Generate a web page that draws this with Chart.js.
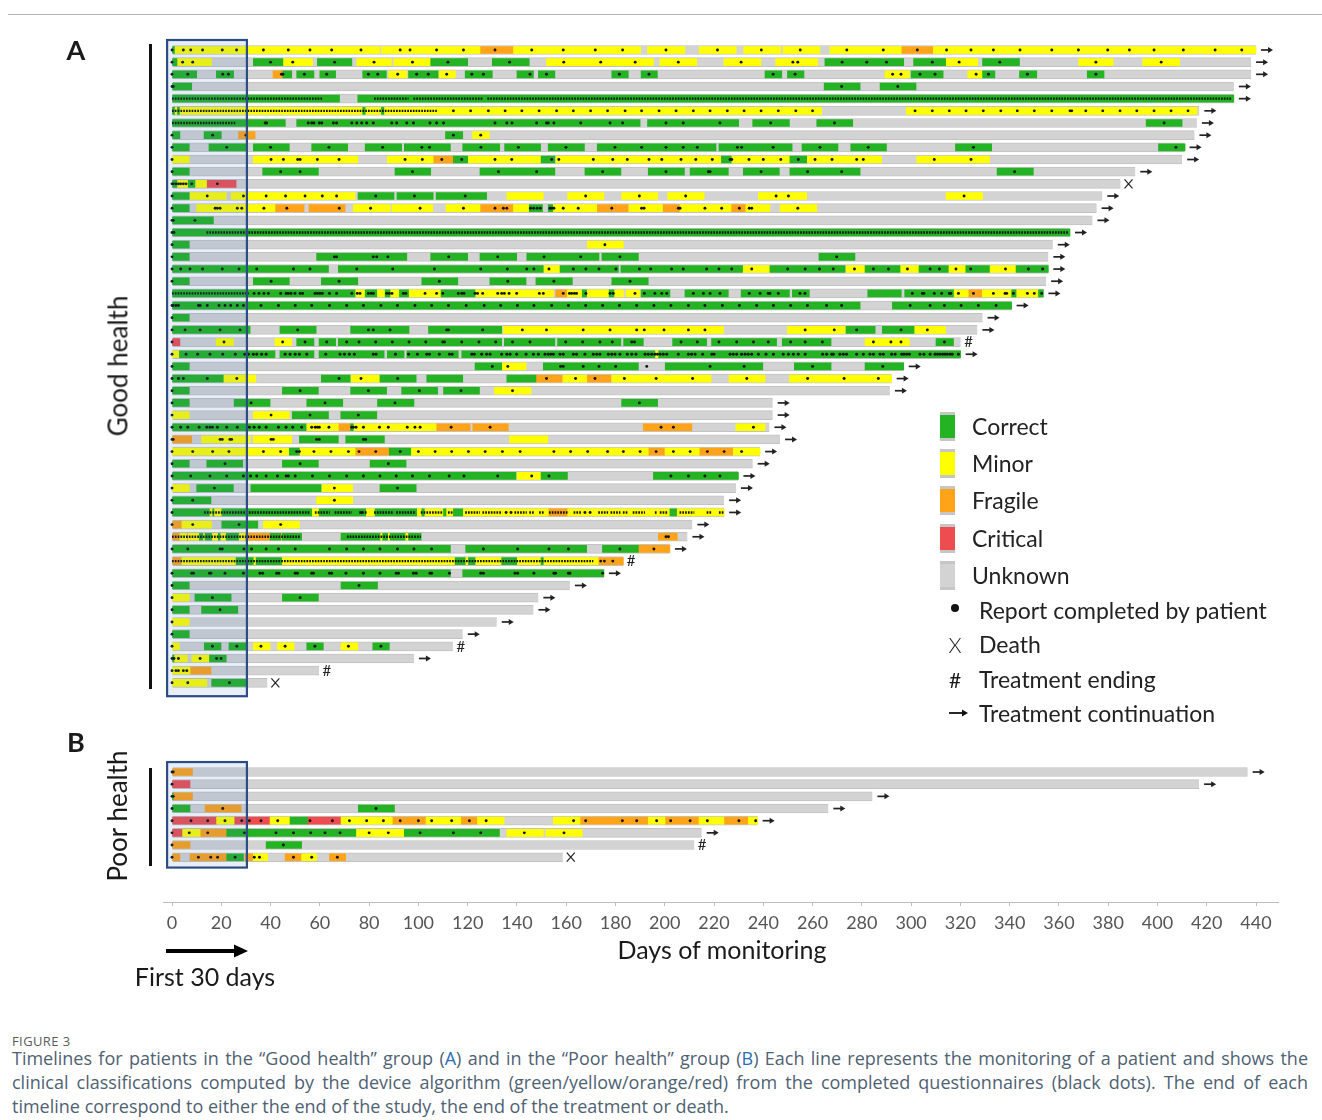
<!DOCTYPE html>
<html>
<head>
<meta charset="utf-8">
<title>Timelines</title>
<script src="https://cdn.jsdelivr.net/npm/chart.js@4.4.1/dist/chart.umd.min.js"></script>
<style>
  body { margin: 0; background: #fff; }
  #fig { position: relative; width: 1322px; height: 1120px; overflow: hidden; font-family: Lato, sans-serif; color: #1a1a1a; }
  #timeline { position: absolute; left: 0; top: 0; }
  .topline { position: absolute; left: 8px; top: 14px; width: 1314px; height: 1px; background: #b4b4b4; }
  .lbl { position: absolute; line-height: 1.2; white-space: nowrap; transform: translate(-50%, -50%); }
  .rot { transform: translate(-50%, -50%) rotate(-90deg); }
  .vline { position: absolute; left: 149px; width: 2.5px; background: #111; }
  .leg-txt { position: absolute; font-size: 23px; line-height: 1.2; white-space: nowrap; transform: translateY(-50%); color: #222; }
  .swatch { position: absolute; left: 940px; width: 15px; height: 23px; border-top: 3px solid #c6c6c6; border-bottom: 3px solid #c6c6c6; }
  .caption { position: absolute; left: 12px; width: 1296px; font-family: "Open Sans", sans-serif; color: #4e6273; font-size: 18px; line-height: 24px; }
  .caption .j { text-align: justify; text-align-last: justify; }
  .caption b { font-weight: normal; color: #2a6db5; }
  .fignum { position: absolute; left: 12px; top: 1032px; font-family: "Open Sans", sans-serif; font-size: 13px; color: #5a5a5a; letter-spacing: 0.4px; }
</style>
</head>
<body>
<div id="fig">
  <div class="topline"></div>
  <canvas id="timeline" width="1322" height="1010"></canvas>

  <div class="lbl" style="left:76px; top:50px; font-size:27px; font-weight:bold;">A</div>
  <div class="lbl" style="left:76px; top:742px; font-size:27px; font-weight:bold;">B</div>
  <div class="vline" style="top:44px; height:645px;"></div>
  <div class="vline" style="top:768px; height:98px;"></div>
  <div class="lbl rot" style="left:118px; top:366px; font-size:26px;">Good health</div>
  <div class="lbl rot" style="left:118px; top:816px; font-size:26px;">Poor health</div>

  <div class="lbl" style="left:722px; top:949px; font-size:25px;">Days of monitoring</div>
  <svg style="position:absolute; left:160px; top:940px;" width="100" height="22">
    <line x1="6" y1="11" x2="76" y2="11" stroke="#000" stroke-width="4"></line>
    <polygon points="74,4.5 88,11 74,17.5" fill="#000"></polygon>
  </svg>
  <div class="lbl" style="left:205px; top:976px; font-size:25px;">First 30 days</div>

  <div class="swatch" style="top:412px; background:#23b323;"></div>
  <div class="leg-txt" style="left:972px; top:427px;">Correct</div>
  <div class="swatch" style="top:449px; background:#ffff00;"></div>
  <div class="leg-txt" style="left:972px; top:464px;">Minor</div>
  <div class="swatch" style="top:486px; background:#ffa318;"></div>
  <div class="leg-txt" style="left:972px; top:501px;">Fragile</div>
  <div class="swatch" style="top:524px; background:#ee4d4f;"></div>
  <div class="leg-txt" style="left:972px; top:539px;">Critical</div>
  <div class="swatch" style="top:561px; background:#d3d3d3;"></div>
  <div class="leg-txt" style="left:972px; top:576px;">Unknown</div>
  <div style="position:absolute; left:951px; top:604px; width:8px; height:8px; border-radius:50%; background:#111;"></div>
  <div class="leg-txt" style="left:979px; top:611px;">Report completed by patient</div>
  <div class="lbl" style="left:955px; top:645px; font-size:21px; font-weight:300;">X</div>
  <div class="leg-txt" style="left:979px; top:645px;">Death</div>
  <div class="lbl" style="left:955px; top:680px; font-size:21px;">#</div>
  <div class="leg-txt" style="left:979px; top:680px;">Treatment ending</div>
  <svg style="position:absolute; left:946px; top:706px;" width="26" height="14">
    <line x1="3" y1="7" x2="17" y2="7" stroke="#111" stroke-width="1.8"></line>
    <polygon points="16,3.5 22,7 16,10.5" fill="#111"></polygon>
  </svg>
  <div class="leg-txt" style="left:979px; top:714px;">Treatment continuation</div>

  <div class="fignum">FIGURE 3</div>
  <div class="caption" style="top:1046px;">
    <div class="j">Timelines for patients in the “Good health” group (<b>A</b>) and in the “Poor health” group (<b>B</b>) Each line represents the monitoring of a patient and shows the</div>
    <div class="j">clinical classifications computed by the device algorithm (green/yellow/orange/red) from the completed questionnaires (black dots). The end of each</div>
    <div>timeline correspond to either the end of the study, the end of the treatment or death.</div>
  </div>
</div>

<script>
// ---- panel A: "Good health" (rows numbered from the top) ----
const endDayA = [440, 438, 438, 431, 431, 417, 416, 415, 411, 410, 391, 385, 377.6, 375.3, 373.6, 364.5, 357.5, 355.7,
  355.7, 354.8, 353.7, 340.8, 329, 326.9, 320.1, 320.1, 297, 292.1, 291.4, 243.8, 243.8, 242.5, 246.8, 238.7, 235.7,
  229.9, 228.9, 224.1, 224.1, 211.2, 209.2, 202.1, 183.2, 175.3, 161.5, 148.7, 146.7, 131.8, 118, 114, 98.2, 59.7, 38.7];
const deathRowsA = [12, 53];
const endingRowsA = [25, 43, 50, 52];

// segments [row, startDay, endDay]
const correctA = [
  [1,0,1],
  [2,0,2],[2,33,45],[2,59,73],[2,105,120],[2,130,145],[2,265,297],[2,301,314],[2,329,344],
  [3,0,10],[3,18,25],[3,45,48.6],[3,50.6,57.6],[3,60,66.4],[3,77.4,87],[3,96,108],[3,119,130],[3,140,146.7],[3,148.7,155.4],
  [3,178.5,185.2],[3,190.4,197],[3,240.7,247.5],[3,249.8,256.5],[3,300,313],[3,329,334],[3,344,351],[3,371.5,378.3],
  [4,0,8],[4,264.7,279.3],[4,287.4,302],
  [5,0,68],[5,75.4,431],
  [6,0,1],[6,2.2,3],[6,77.4,78.4],[6,85,86],
  [7,0,46],[7,50.6,190],[7,193,230],[7,235.7,250.6],[7,261.7,276.3],[7,395.4,410],
  [8,0,3.2],[8,13,20],[8,111,118],
  [9,0,7],[9,15,30.3],[9,33,47.6],[9,56.7,71.3],[9,78.4,93.2],[9,94.3,113],[9,118,133],[9,135,149.6],[9,152.7,167.4],
  [9,172.6,220.8],[9,222,251.7],[9,255.7,270.3],[9,275.5,290],[9,318,332.7],[9,400.4,411.2],
  [10,114.2,120],[10,149.8,155.4],[10,223,227],[10,250.8,257.6],
  [11,0,7],[11,36.8,59.4],[11,90.5,105],[11,125,155.4],[11,167.6,182.2],[11,193.3,208],[11,210.3,225.8],[11,231.9,246.5],
  [11,250.8,279.3],[11,334.9,349.6],
  [12,0,2],[12,6.6,9.3],
  [13,0,7],[13,75.5,90.1],[13,91.3,106],[13,107.2,127.7],
  [14,0,7],[14,145,150.4],[14,152.7,154.5],
  [15,0,16.8],
  [16,0,364.5],
  [17,0,7],
  [18,0,7],[18,58.7,95.3],[18,105,120],[18,125,139.9],[18,144,173.3],[18,174.5,189.3],[18,262.6,277.2],
  [19,0,63.5],[19,67.5,150.7],[19,157.5,181.2],[19,182.2,231.6],[19,242.7,273.2],[19,281.3,295.5],[19,303.2,315.1],
  [19,322.2,331.8],[19,342.6,355.7],
  [20,0,7],[20,33,47.6],[20,60.6,75.4],[20,101.4,116],[20,129,143.7],[20,147.7,162.5],[20,178.5,193.3],
  [21,0,74.3],[21,78.4,83.1],[21,86.5,88.5],[21,92.3,96],[21,109.2,123],[21,166.5,168.3],[21,177.4,179.4],[21,190.4,202.1],
  [21,208.2,225.8],[21,231,250.6],[21,251.8,258.7],[21,282.4,296],[21,297.4,317.2],[21,340.8,342.6],[21,351.7,353.7],
  [22,0,279.3],[22,292.4,340.8],
  [23,0,7],
  [24,0,31.7],[24,43.8,58.5],[24,72.5,96.2],[24,104.1,133.8],[24,273.6,285.4],[24,288.3,301.2],
  [25,50.6,57.6],[25,59.7,66.4],[25,67.5,133.8],[25,134.9,155.4],[25,156.5,182.2],[25,183.3,191.3],[25,203.2,217],
  [25,219,245.4],[25,247.7,267.5],[25,310.1,317.2],
  [26,3,41.8],[26,43.8,57.6],[26,59.7,86.1],[26,87.4,94.2],[26,95.3,116.2],[26,117.6,196],[26,197.5,320.1],
  [27,0,7],[27,123,133.8],[27,150.7,189.3],[27,200.2,239.8],[27,252.6,267.5],[27,281.3,297],
  [28,0,20.8],[28,60.6,72.3],[28,84.4,99.1],[28,103.4,118],[28,135.9,147.7],
  [29,0,7],[29,44.8,59.4],[29,72.5,87.1],[29,93.2,107.8],[29,110.2,124.8],
  [30,0,7],[30,25.2,39.8],[30,54.7,69.3],[30,83.4,98.2],[30,182.5,197.1],
  [31,48.8,63.5],[31,68.5,83.1],
  [32,0,54.4],[32,72.5,73.6],
  [33,51.7,67.5],[33,70.5,86.2],
  [34,47.6,51.7],[34,88.2,96.9],
  [35,0,7],[35,14.1,28.7],[35,44.8,59.4],[35,80.4,95],
  [36,0,139.6],[36,149.8,160.5],[36,195.4,229.9],
  [37,10,24.9],[37,32,60.5],[37,84.4,99.1],
  [38,0,15.8],
  [39,0,15.2],[39,16.5,17],[39,20.2,56.7],[39,59.7,78.6],[39,82.4,99.3],[39,101.4,102.4],[39,110.2,111.2],[39,114.2,118],[39,202.1,204.8],
  [40,20.2,34.8],
  [41,11.1,12.5],[41,13.4,16.1],[41,18.8,19.5],[41,22,27],[41,39.8,44.1],[41,44.8,52.6],[41,68.6,84.4],[41,85.5,87.5],
  [41,88.5,94.6],[41,96,101.1],
  [42,0,113],[42,119.2,168.3],[42,174.7,189.3],
  [43,26,33],[43,34.1,44.5],[43,114.9,119],[43,120.3,123],[43,133.8,139.9],[43,149.8,150.7],
  [44,0,113],[44,118,175.3],
  [45,0,7],[45,68.6,83.4],
  [46,9.3,24],[46,44.8,59.4],
  [47,0,7],[47,12,26.7],
  [49,0,7],
  [50,13.1,19.9],[50,23.1,30],[50,54.7,61.4],[50,81.5,88.2],
  [51,0,0.8],[51,15.2,22],
  [53,16.1,30]
];
const minorA = [
  [1,1,84.2],[1,85,125],[1,138.6,190.2],[1,193,208.2],[1,214,229],[1,232,247],[1,248,263],[1,267,296],[1,309,440],
  [2,2,16],[2,45,57],[2,75,89],[2,90,105],[2,152,195.4],[2,198,213],[2,224,239],[2,245,262],[2,314,327],[2,368,382],[2,394,409],
  [3,88,95.3],[3,108.4,115],[3,289.4,299.3],[3,323,329],
  [6,1,2.2],[6,3,77.4],[6,78.4,85],[6,86,263.7],[6,298,416],
  [7,9,9.8],[7,130,134],
  [8,122,128.8],
  [10,0,7],[10,33,75.4],[10,87.4,106],[10,120,149.6],[10,155.9,222.8],[10,227,250.8],[10,257.6,288],[10,302.3,331.8],
  [12,2,6.6],[12,9.3,14],
  [13,7.3,22],[13,24,74.3],[13,135.9,150.7],[13,160.6,175.3],[13,182.5,197.1],[13,201.2,216],[13,238,257.6],[13,314.2,329],
  [14,10,41.8],[14,73.6,88.5],[14,89.3,105.8],[14,111.2,125],[14,138.6,145],[14,154.5,172.4],[14,185.5,199],[14,206.2,226.9],
  [14,232.9,242.7],[14,246.8,261.7],
  [17,168.6,183.2],
  [19,150.7,157.5],[19,231.9,242.7],[19,273.6,281.3],[19,295.5,303.2],[19,315.1,322.2],[19,331.8,342.6],
  [21,74.3,78.4],[21,83.4,86.5],[21,88.5,92.3],[21,96,109.2],[21,123,154.8],[21,160.5,166.3],[21,168.3,177.4],[21,179.4,183.2],
  [21,184.3,190],[21,317.2,323.2],[21,328.9,340.8],[21,342.6,351.7],
  [24,134.5,223.8],[24,249.8,273.2],[24,301.2,314],
  [25,17.9,24.9],[25,41.8,48.6],[25,281.3,299.3],
  [26,0,3],[26,196,197.5],
  [27,133.8,143.7],
  [28,20.8,34],[28,72.7,84.2],[28,158.7,168.3],[28,178.5,218.8],[28,226.1,240.7],[28,250.6,292.1],
  [29,130.9,145.7],
  [31,0,7],[31,33,47.6],
  [32,54.7,67.5],[32,73.6,107.2],[32,228.9,240.7],
  [33,12,31.7],[33,33,48.6],[33,137,152.5],
  [34,0,47.6],[34,51.7,74.3],[34,96.9,193.3],[34,200.1,214],[34,227.8,238.7],
  [36,140,149.8],
  [37,0,7],[37,60.8,73.3],
  [38,58.7,73.3],
  [39,15.2,16.5],[39,17,20.2],[39,56.7,59.7],[39,78.6,82.4],[39,99.3,101.4],[39,102.4,110.2],[39,111.2,114.2],[39,118,152.7],
  [39,160.6,202.1],[39,204.8,224.1],
  [40,4,16],[40,37.1,51.7],
  [41,3.2,6],[41,6.6,11.1],[41,12.5,13.4],[41,16.1,18.8],[41,19.5,22],[41,27,29.6],[41,84.4,85.5],[41,87.5,88.5],[41,94.6,96],
  [43,4,26],[43,33,34.1],[43,44.5,114.9],[43,119,120.3],[43,123,133.8],[43,139.9,149.8],[43,150.7,173],
  [46,0,7],
  [48,0,7],
  [50,0,3],[50,33,39.8],[50,42.8,49.5],[50,68.6,75.4],
  [51,0.8,6.2],[51,8,15.2],
  [52,0,7.3],
  [53,0,14.1]
];
const fragileA = [
  [1,125,138.6],[1,296,309],
  [3,41,45],
  [8,27,33.7],
  [10,106,114.2],
  [14,41.8,53.6],[14,55.6,70.2],[14,125,138.6],[14,172.4,185.2],[14,199.3,206.2],[14,226.9,232.9],
  [21,155.7,160.5],[21,323.2,328.9],
  [28,147.7,158.4],[28,168.6,178.2],
  [32,67.5,72.5],[32,107.2,121],[32,122.1,136.5],[32,191.3,211],
  [33,0,8],
  [34,74.3,88.2],[34,193.3,200.1],[34,214,227.8],
  [39,152.7,160.6],
  [40,0,4],
  [41,0,3.2],[41,6,6.6],[41,29.6,39.8],[41,44.1,44.8],[41,197.4,205.1],
  [42,189.3,202.1],
  [43,0,4],[43,173,183.2],
  [52,7.3,15.8]
];
const criticalA = [[12,14,26],[25,0,3.2]];

// days with a completed questionnaire, one list per row
const reportDaysA = [
  [0,4.6,7.6,12.4,20.4,26.2,37.1,47.2,56,64.8,76.7,92.6,96.6,107.4,118.3,131.1,146,158.8,171.8,182.9,200.5,221.4,239.2,255,
   273.9,288.7,302.5,314.4,324.3,333.4,344.2,357.1,367.9,379.8,388.6,398.6,410.5,423.4,434.2],
  [0,4.3,8.4,40,49,66,82,97.6,112,137,159,174,188,205.5,231,252,254,272,282,290,308.6,319.5,336,375,401.5],
  [0,6.4,20.6,22.9,44.4,45,53.7,62.8,79.7,83.5,91.6,99.3,104,111.5,121.7,126.4,145.3,152,181.6,193.6,244,252.9,292.5,295.9,
   303.6,309.7,326.4,331.4,347.2,375],
  [0,0.5,271.8,294.6],
  [],
  [114.2,121.2,128.4,135.2,142,149,156.1,162.9,169.9,176.8,183.9,190.6,197.7,204.6,211.6,218.4,225.4,232.2,239.1,246.1,253.2,
   260,301.6,308.6,315.5,322.3,329.3,336.4,343.1,350,357.1,364.5,365.2,370.9,377.8,384.8,391.6,398.6,405.5,412.4],
  [37.8,38.4,55.3,56.7,57.6,59.8,60.8,65.5,66.8,73,75,77,79,81.7,89.2,91.2,95.3,98,104.7,107.4,110.2,131.1,135.9,138,148,152,
   152.7,155,165.9,177.8,182.9,200.5,207.5,222.4,243,268.9,402.7],
  [0,16.5,30,114.2,125.3],
  [0,22.2,40,63.7,85.5,101.4,104.5,125.4,140.6,159.9,179.8,190.6,200.5,207.5,213.2,229.5,231.2,244,263,282.6,325.3,407.5],
  [0,40.2,45.2,51,52,59,67.8,94.6,101.6,109.5,117.6,131.1,137.9,154.1,157,171,178.9,184.8,193.6,198.8,206.6,212.6,219.3,
   226.5,227.2,234.2,240,247.1,254.2,261,267.9,277.9,280.6,309.4,324.3],
  [0,44.1,52,97.6,132.5,148,174.8,200.5,217.7,218.4,239.1,258,271.8,342],
  [0,0.5,1.6,2.6,3.5,4.6,5.7,8,18.4],
  [0,14.3,29,38.2,46.1,54,61,66.8,82.7,98.4,119,167.9,189.7,208.5,245.2,250.2,321.5],
  [0,17.5,18.4,19.5,26.5,28.3,37.3,46.6,67.9,80.6,100.7,118.3,131.1,134.5,135.9,145.5,146.8,148.2,149.5,153.4,154.1,155,
   158.8,164.9,178.5,190.6,191.6,205.5,206.2,216.3,223.1,230.3,234.3,235.3,254],
  [0,0.5,9.3],
  [0,0.8],
  [0,175.7],
  [0,65.9,66.8,81.7,83.1,87.6,112.3,132.2,151,165.9,181.8,269.8],
  [0,3.5,7.3,12.4,20.4,27.2,34.4,49.3,56,75,89.6,106.5,125.3,136.1,144,146.9,153,162.9,168,173.3,180.2,189.7,194.3,202.8,
   207.5,217,222,227.2,235.3,249.9,257,262.8,268.4,277,284.7,290.8,298.5,307.7,311.5,318.2,324.2,338.3,347.6,353.4],
  [0,40.2,67.8,108.5,136.3,155,185.9],
  [30.6,33.3,35.3,37.3,39.1,44.1,46.3,47.2,48.3,49.9,52,53,58,59,60,61,63.9,66.8,73,75.2,76.3,79.7,80.8,81.7,87.1,88.2,89.3,
   93.9,94.9,102.7,107.4,109.9,116.2,117.6,118.5,123,124,126.1,132.2,133.8,134.9,136.8,139.9,149.1,150.7,158.8,161.3,162.2,
   163.3,164.2,168,177.8,179.1,187.9,191.7,196,198.8,200.8,211.6,215.7,218.4,222.4,234.3,238.7,242,242.7,246.1,254.9,256.9,
   300.5,304.6,305.2,309.4,312.4,315.5,316.1,319.2,325.3,333.4,338.1,338.8,341.5,347.2,350,353],
  [0,0.5,1.6,2.6,10.7,11.4,14.3,19.1,21.5,23.8,26.5,29,36.1,43.2,50,56.7,63.9,70.9,77.7,84.8,91.5,98.6,105.4,112.2,119.4,
   126.7,133.4,140.2,146.9,154.1,160.9,167.9,174.8,181.6,188.6,195.6,202.5,209.6,216.3,223.4,230.3,237.3,244.1,251.1,257.9,
   265.7,271.8,299.6,307.7,313.5,320.3,327.3,334.5],
  [0],
  [0,5.3,11.4,19.5,27.6,51,79.7,81.7,88.5,111.5,112.2,126.1,142.2,152,166.9,177.8,188.6,191.7,199.7,209.6,216.3,257,268.8,
   277.9,295.9,306.6],
  [0,21.1,44.9,54,62.8,70.9,75.9,82.7,89.4,96.2,103,109.9,110.6,117.6,124.6,131.4,138.2,145.3,159.8,166.7,173.7,178.7,186.6,
   187.7,206.6,213.2,222,229.2,236,242,251.1,257,264,284.7,291.8,295.9,313.5],
  [0,5.7,10.4,15.4,20.6,25.7,29.5,31,33,34.4,36.4,38.2,45.9,47.9,50,51.7,54.7,62.4,68.2,70,72,74,81.7,82.8,90.7,96,99.6,
   103.4,104.5,108.5,112.6,113.7,121.7,122.7,125.7,127.7,129.1,133.8,135.9,137.2,139.9,143.7,146.7,148.7,151.4,152.7,153.7,
   154.8,157.5,158.8,162.9,164.2,167.6,171,172.4,173.7,177.1,178.5,179.8,181.8,184.8,186.6,188.3,192,193.3,194.7,196,197,
   198.1,199.4,200.8,205.5,209.6,210.9,212.3,215.4,219.1,220,226.5,227.8,229.2,231.2,232.6,233.9,235.3,238,241.1,244.1,248.1,
   250.2,252.2,254.2,257,264.1,265.7,267.8,268.4,271.1,272.5,273.8,277.9,280.6,283.3,284.7,287.4,288.7,292.1,293.5,296.2,
   297.1,298.2,299.3,303.6,305.2,307.7,309.7,310.7,311.7,312.8,313.8,314.7,315.8,316.7,319.2],
  [0,130,136.3,157.7,158.8,166.9,173.3,180.1,192.7,218.4,232.2,260,288.5],
  [0,2.6,4.6,14.3,26.3,67.8,76.7,91.6,152,163.8,171.7,183.6,196.5,211.3,233.3,258,272.8,286.7],
  [0,52,79.7,100.4,117.3,138.2],
  [0,32.1,62.1,90.5,189.7],
  [0,40.2,56,75.6],
  [0,3.5,6.4,11,14.1,15.4,16.4,18.4,22.2,26.5,31.4,33.3,35.4,38.2,43.2,46.3,49,52.6,56.7,58.1,59,59.8,63.7,72.9,73.6,74.7,
   77.7,84.2,87.8,95.5,98.6,100.7,113.3,129.1,198.5,203.5,236],
  [0,0.5,19.5,20.4,23.5,24.2,40.2,41.1,58.7,59.8,77.7,78.6],
  [0,8.4,16.5,23.1,37.1,44.1,50.6,51.7,57.6,64.5,71.6,75.9,82.7,92.6,100,106.8,113.5,120.3,127.1,134.1,141.3,155,161.8,168.7,
   176.8,183.2,190,196.5,203.5,210.3,217.3,224.1,231.2],
  [0,21.5,52,87.8],
  [0,7.6,15.4,22.2,29,31.9,34.4,38.2,42.8,46.3,47.2,50,57,63.9,70.9,77.7,84.4,91,97.6,104.5,112.5,118.5,132.2,146,153,202.5,
   209.6,216.3,222.4],
  [0,17.2,65.9,91.5],
  [0,8.4,65.9],
  [0,77,135.6,137.6,167.6,169.7],
  [0,8.4,27.2,44.1],
  [200.5,201.5],
  [0,6.4,19.5,20.4,29.2,32.3,38.2,43.2,50,63.9,70.9,77.7,84.4,91.5,98.2,105.4,126.4,140.3,153,160.9,181.8,195.6],
  [174,175.5,178.9],
  [0,8,8.7,15.2,15.8,21.5,29,35.7,36.8,42.5,43.4,50,50.9,56.7,57.4,63.9,64.8,70.6,77.7,84.4,91,91.9,98,99.1,104.7,105.4,
   112.6,125.3,126.4,139.2,140.3,146.9,155,155.7,160.9,161.5,174.8],
  [0,75.9],
  [0,16.4,52],
  [0,19.5],
  [0],
  [0],
  [0,16.4,26.3,36.1,45.9,58,71.6,84.8],
  [0,0.8,2.6,11.4,18.1,19.9],
  [0,1.6,2.6,4.6,6],
  [0,6.4,23.3]
];
// stretches with a questionnaire almost every day [row, startDay, endDay]
const dailyReportsA = [
  [5,0,61],[5,82,96],[5,98,126],[5,128,430],
  [6,0,107.5],
  [7,0,26],
  [16,14,364],
  [21,0,30],
  [39,13,56],[39,58,64],[39,66,73],[39,76,79],[39,82,90],[39,91,99],[39,101,110],[39,112,114],[39,119,125],[39,126,134],
  [39,139,144],[39,145,147],[39,149,151],[39,153,161],[39,163,166],[39,173,177],[39,178,182],[39,183,185],[39,187,192],
  [39,196,197],[39,198,201],[39,206,212],[39,217,219],[39,222,224],
  [41,0,52],[41,71,101],
  [43,0,171]
];

// ---- panel B: "Poor health" ----
const endDayB = [436.6, 416.9, 284.3, 266.4, 237.7, 215, 212, 158.6];
const deathRowsB = [8];
const endingRowsB = [7];
const correctB = [[3,0,0.5],[4,0,7.3],[4,75.6,90.3],[5,47.9,54.9],[6,22.2,74.6],[6,94.3,132.9],[7,38.2,52.6],[8,22.2,29]];
const minorB = [
  [5,18.1,25.2],[5,39.8,47.9],[5,68.6,89.4],[5,103.1,117.2],[5,124,134.8],[5,154.8,165.6],[5,193.3,200.1],[5,213.9,224],
  [5,233.9,237.7],
  [6,4.3,11.4],[6,74.6,94.3],[6,135.9,150.7],[6,151.7,166.5],
  [8,33,38.8],[8,52.6,58.7]
];
const fragileB = [
  [1,0,8.3],[3,0.5,8.3],[4,13.4,28],
  [5,89.4,103.1],[5,117.2,124],[5,165.6,193.3],[5,200.1,213.9],[5,224,233.9],
  [6,11.4,22.2],[7,0,7.3],
  [8,0,3.2],[8,7.3,22.2],[8,29.6,33],[8,45.9,52.6],[8,63.9,70.5]
];
const criticalB = [[2,0,7.3],[5,0,18.1],[5,25.2,39.8],[5,54.9,68.6],[6,0,4.3]];
const reportDaysB = [
  [0,0.5],
  [0],
  [0,0.5],
  [0,20.6,82.8],
  [0,7.7,14.5,21.5,28.3,31.4,36.1,42.9,56,65.1,72,79,85.8,92.6,100,105.4,113.5,120.7,127.5,163,167.9,182.8,188.6,196.7,202.4,
   210.3,217.3,230.1,236.9],
  [0,7,14.5,29.4,42.2,49.3,56.3,62.1,68.2,80,87.8,100.7,114.2,125.3,143,159.1],
  [0,45.2],
  [0,10.7,15.7,18.5,25.6,33.4,35.5,49.3,56.7,67.1]
];

const xTicks = [0, 20, 40, 60, 80, 100, 120, 140, 160, 180, 200, 220, 240, 260, 280, 300, 320, 340, 360, 380, 400, 420, 440];
const FIRST_DAYS = 30;

// layout of the row axis: panel B starts a little below panel A
const ROW_OFFSET_B = 59.33;
const Y_MIN = -0.82, Y_MAX = 70.01;

const COLORS = {
  correct: '#23b323',
  minor: '#ffff00',
  fragile: '#ffa318',
  critical: '#ee4d4f',
  unknown: '#d3d3d3'
};

function rowY(panel, row) {
  return panel === 'A' ? row - 1 : ROW_OFFSET_B + row - 1;
}

function segBars(list, panel) {
  return list.map(([r, s, e]) => ({ x: [s, e], y: rowY(panel, r) }));
}

function statusDataset(label, color, listA, listB) {
  return {
    type: 'bar',
    label: label,
    indexAxis: 'y',
    data: segBars(listA, 'A').concat(segBars(listB, 'B')),
    backgroundColor: color,
    borderWidth: 0,
    barThickness: 7,
    grouped: false,
    order: 2
  };
}

const unknownBars = endDayA.map((e, i) => ({ x: [0, e], y: rowY('A', i + 1) }))
  .concat(endDayB.map((e, i) => ({ x: [0, e], y: rowY('B', i + 1) })));

const reportPoints = [];
reportDaysA.forEach((days, i) => days.forEach(d => reportPoints.push({ x: d, y: rowY('A', i + 1) })));
reportDaysB.forEach((days, i) => days.forEach(d => reportPoints.push({ x: d, y: rowY('B', i + 1) })));

// null points break the line between two stretches
const dailyPoints = [];
dailyReportsA.forEach(([r, s, e]) => {
  dailyPoints.push({ x: s, y: rowY('A', r) }, { x: e, y: rowY('A', r) }, { x: e, y: null });
});

function endMarks(ends, deaths, endings, panel) {
  return ends.map((e, i) => {
    const row = i + 1;
    let mark = 'arrow';
    if (deaths.includes(row)) mark = 'death';
    if (endings.includes(row)) mark = 'ending';
    return { day: e, y: rowY(panel, row), mark: mark };
  });
}
const marks = endMarks(endDayA, deathRowsA, endingRowsA, 'A').concat(endMarks(endDayB, deathRowsB, endingRowsB, 'B'));

const overlayPlugin = {
  id: 'overlays',
  afterDatasetsDraw(chart) {
    const { ctx } = chart;
    const xs = chart.scales.x, ys = chart.scales.y;
    ctx.save();

    // "first 30 days" boxes
    const boxes = [
      [rowY('A', 1) - 0.82, rowY('A', endDayA.length) + 1.1],
      [rowY('B', 1) - 0.82, rowY('B', endDayB.length) + 0.85]
    ];
    const bx0 = xs.getPixelForValue(-2), bx1 = xs.getPixelForValue(FIRST_DAYS + 0.4);
    boxes.forEach(([t, b]) => {
      const y0 = ys.getPixelForValue(t), y1 = ys.getPixelForValue(b);
      ctx.fillStyle = 'rgba(70,120,190,0.13)';
      ctx.fillRect(bx0, y0, bx1 - bx0, y1 - y0);
      ctx.strokeStyle = '#2c4c86';
      ctx.lineWidth = 2.2;
      ctx.strokeRect(bx0, y0, bx1 - bx0, y1 - y0);
    });

    // end of each timeline
    ctx.fillStyle = '#222';
    ctx.strokeStyle = '#222';
    marks.forEach(m => {
      const px = xs.getPixelForValue(m.day), py = ys.getPixelForValue(m.y);
      if (m.mark === 'arrow') {
        ctx.lineWidth = 1.7;
        ctx.beginPath();
        ctx.moveTo(px + 5, py);
        ctx.lineTo(px + 13, py);
        ctx.stroke();
        ctx.beginPath();
        ctx.moveTo(px + 12, py - 3);
        ctx.lineTo(px + 17, py);
        ctx.lineTo(px + 12, py + 3);
        ctx.closePath();
        ctx.fill();
      } else if (m.mark === 'death') {
        ctx.lineWidth = 1.2;
        ctx.beginPath();
        ctx.moveTo(px + 4, py - 4.5);
        ctx.lineTo(px + 12, py + 4.5);
        ctx.moveTo(px + 12, py - 4.5);
        ctx.lineTo(px + 4, py + 4.5);
        ctx.stroke();
      } else {
        ctx.font = '15px Lato';
        ctx.textAlign = 'left';
        ctx.textBaseline = 'middle';
        ctx.fillText('#', px + 3.5, py + 0.5);
      }
    });
    ctx.restore();
  }
};

new Chart(document.getElementById('timeline'), {
  type: 'bar',
  data: {
    datasets: [
      {
        type: 'scatter',
        label: 'Report completed by patient',
        data: reportPoints,
        pointRadius: 1.45,
        pointBackgroundColor: '#111',
        pointBorderWidth: 0,
        order: 0
      },
      {
        type: 'line',
        label: 'Daily reports',
        data: dailyPoints,
        borderColor: '#111',
        borderWidth: 2.4,
        borderDash: [1.7, 1.1],
        pointRadius: 0,
        spanGaps: false,
        fill: false,
        order: 1
      },
      statusDataset('Correct', COLORS.correct, correctA, correctB),
      statusDataset('Minor', COLORS.minor, minorA, minorB),
      statusDataset('Fragile', COLORS.fragile, fragileA, fragileB),
      statusDataset('Critical', COLORS.critical, criticalA, criticalB),
      {
        type: 'bar',
        label: 'Unknown',
        indexAxis: 'y',
        data: unknownBars,
        backgroundColor: COLORS.unknown,
        borderColor: '#c2c2c2',
        borderWidth: { top: 1, bottom: 1, left: 0, right: 0 },
        borderSkipped: false,
        barThickness: 9,
        grouped: false,
        order: 3
      }
    ]
  },
  options: {
    responsive: false,
    animation: false,
    events: [],
    layout: { padding: { left: 163.4, right: 43.8, top: 40, bottom: 0 } },
    plugins: { legend: { display: false }, tooltip: { enabled: false } },
    scales: {
      x: {
        type: 'linear',
        min: -3.5,
        max: 449,
        offset: false,
        afterFit: s => { s.height = 108; },
        afterBuildTicks: s => { s.ticks = xTicks.map(v => ({ value: v })); },
        ticks: { color: '#555', font: { family: 'Lato', size: 18 }, padding: 6, maxRotation: 0, autoSkip: false },
        grid: { display: true, drawOnChartArea: false, drawTicks: true, tickLength: 4, color: '#bdbdbd', offset: false },
        border: { display: true, color: '#bdbdbd', width: 1 }
      },
      y: {
        type: 'linear',
        reverse: true,
        min: Y_MIN,
        max: Y_MAX,
        offset: false,
        display: false
      }
    }
  },
  plugins: [overlayPlugin]
});
</script>
</body>
</html>
